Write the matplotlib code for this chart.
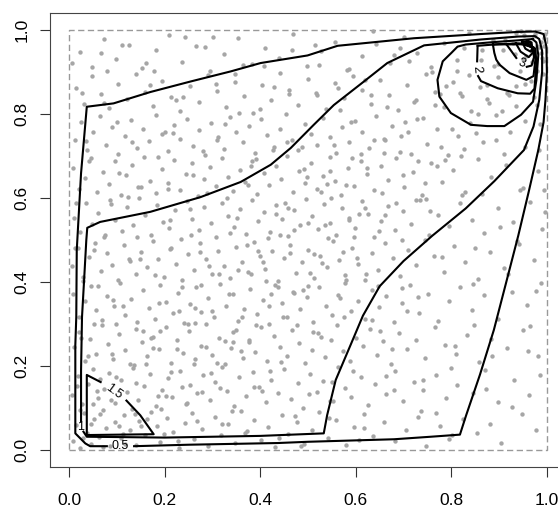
import numpy as np
import matplotlib
matplotlib.use('Agg')
import matplotlib.pyplot as plt

plt.rcParams['font.family'] = ['Liberation Sans', 'DejaVu Sans']

# sample points (per-mille)
dots = [
    # y 0.0 - 0.1
    (8,22),(15,61),(22,5),(31,88),(37,40),(46,14),(52,73),(63,31),(70,95),(78,52),(86,9),(95,66),
    (108,28),(114,84),(127,47),(139,12),(146,70),(158,35),(171,92),(183,58),(190,19),(204,77),
    (218,43),(229,6),(243,64),(257,89),(262,27),(279,51),(291,11),(305,80),(318,36),(333,62),
    (347,17),(359,94),(372,45),(388,71),(401,24),(417,56),(431,8),(446,83),(459,38),(477,66),
    (492,15),(508,49),(523,90),(541,30),(558,72),(579,12),(596,55),(618,86),(637,33),(659,68),
    (682,21),(705,47),(731,79),(748,10),(776,58),(795,27),(824,74),(853,41),(881,63),(903,18),
    (948,85),(977,49),
    # y 0.1 - 0.2
    (6,131),(18,177),(27,109),(39,158),(49,192),(61,124),(74,145),(83,183),(97,112),(109,167),
    (121,138),(133,196),(144,119),(156,152),(169,181),(181,104),(195,143),(208,171),(216,127),
    (232,189),(245,110),(253,156),(268,135),(281,178),(294,119),(306,162),(319,199),(331,141),
    (345,106),(356,173),(370,128),(384,187),(397,150),(412,115),(423,168),(438,136),(450,194),
    (464,121),(479,159),(490,101),(505,182),(519,139),(532,165),(547,117),(563,197),(578,149),
    (590,126),(611,174),(626,108),(640,157),(664,133),(683,188),(699,116),(722,162),(741,142),
    (768,179),(789,123),(812,155),(846,137),(870,191),(897,114),(931,166),(962,132),(986,180),
    # y 0.2 - 0.3
    (11,246),(20,281),(33,213),(44,264),(57,229),(68,297),(81,252),(92,218),(105,276),(117,238),
    (128,205),(141,289),(153,257),(164,223),(176,270),(189,241),(202,294),(214,208),(225,262),
    (239,231),(250,283),(264,216),(276,249),(287,299),(300,227),(313,266),(326,204),(339,243),
    (350,287),(363,219),(377,258),(390,234),(402,292),(415,211),(428,272),(442,245),(455,225),
    (467,285),(481,255),(494,207),(508,238),(521,279),(535,221),(548,261),(561,298),(574,236),
    (588,212),(601,268),(615,247),(629,289),(644,227),(658,259),(673,205),(690,278),(707,240),
    (726,262),(744,219),(765,293),(787,251),(809,230),(832,275),(858,209),(884,264),(916,243),
    (950,286),(981,224),
    # y 0.3 - 0.4
    (9,372),(21,318),(34,356),(45,391),(56,334),(69,309),(80,367),(93,344),(106,398),(118,322),
    (130,359),(142,305),(154,381),(167,338),(179,311),(190,394),(203,352),(217,326),(228,375),
    (240,302),(253,347),(266,388),(277,329),(291,361),(303,316),(316,395),(328,343),(342,371),
    (353,308),(366,337),(379,384),(393,325),(405,357),(418,301),(431,392),(445,349),(457,318),
    (469,376),(484,336),(497,364),(510,306),(523,388),(537,344),(551,321),(563,369),(577,397),
    (590,331),(604,355),(619,313),(633,382),(648,341),(664,367),(680,304),(697,350),(714,392),
    (733,326),(752,372),(772,308),(795,354),(818,389),(843,333),(869,368),(897,312),(927,377),
    (958,345),(988,398),
    # y 0.4 - 0.5
    (7,437),(19,481),(30,412),(42,459),(55,494),(66,426),(79,468),(90,441),(103,406),(115,487),
    (127,451),(140,419),(151,472),(163,436),(176,498),(187,455),(199,413),(212,479),(224,443),
    (237,404),(249,466),(261,429),(274,492),(287,454),(299,418),(311,475),(324,438),(337,409),
    (349,483),(361,447),(374,424),(386,496),(399,461),(411,432),(424,474),(437,402),(449,456),
    (462,489),(475,421),(487,448),(500,477),(513,410),(526,463),(539,436),(552,498),(565,452),
    (578,417),(592,481),(605,444),(619,405),(633,470),(647,429),(662,493),(677,458),(693,414),
    (709,476),(726,440),(744,499),(763,461),(784,423),(806,485),(829,447),(855,408),(881,471),
    (910,433),(941,490),(972,452),
    # y 0.5 - 0.6
    (10,552),(23,518),(35,587),(47,539),(60,565),(72,506),(85,594),(97,547),(110,521),(122,578),
    (134,536),(147,599),(159,560),(171,513),(184,584),(196,544),(209,528),(221,571),(234,503),
    (246,592),(258,551),(271,524),(283,579),(296,540),(308,508),(321,589),(333,557),(346,531),
    (358,574),(371,515),(383,596),(396,545),(408,567),(421,519),(433,583),(446,549),(458,509),
    (471,572),(483,536),(496,598),(509,558),(521,525),(534,586),(547,541),(559,512),(572,577),
    (585,553),(598,529),(612,593),(625,562),(639,507),(653,546),(668,581),(683,523),(699,568),
    (716,539),(734,595),(753,511),(773,559),(795,534),(818,588),(843,548),(869,517),(898,575),
    (930,542),(964,591),(989,527),
    # y 0.6 - 0.7
    (8,671),(20,622),(33,648),(45,694),(58,615),(70,662),(83,633),(95,687),(108,606),(120,655),
    (132,679),(145,627),(157,698),(169,641),(182,612),(194,668),(207,636),(219,691),(232,619),
    (244,657),(257,683),(269,604),(282,646),(294,674),(307,628),(319,695),(332,651),(344,617),
    (357,666),(369,639),(382,688),(394,609),(407,659),(419,631),(432,677),(444,645),(457,699),
    (469,613),(482,664),(494,636),(507,684),(519,622),(532,653),(545,697),(557,641),(570,608),
    (583,672),(596,628),(610,689),(624,656),(638,618),(653,677),(668,643),(684,696),(701,625),
    (719,662),(738,607),(758,684),(780,639),(803,667),(828,614),(855,692),(884,649),(915,678),
    (949,624),(982,663),
    # y 0.7 - 0.8
    (12,738),(25,781),(38,713),(51,756),(64,794),(77,727),(90,768),(103,705),(116,747),(129,786),
    (142,719),(155,763),(168,736),(181,798),(194,752),(207,711),(220,774),(233,741),(246,789),
    (259,724),(272,761),(285,703),(298,779),(311,745),(324,716),(337,792),(350,758),(363,732),
    (376,771),(389,708),(402,787),(415,749),(428,722),(441,765),(454,799),(467,738),(480,713),
    (493,776),(506,753),(519,727),(532,791),(545,744),(558,706),(571,769),(585,733),(599,784),
    (613,758),(628,719),(643,795),(659,741),(675,772),(692,709),(710,756),(729,788),(749,729),
    (770,763),(792,702),(815,748),(840,779),(866,734),(894,797),(923,757),(954,721),(985,776),
    # y 0.8 - 0.9
    (15,862),(31,824),(48,889),(66,847),(84,813),(102,871),(121,836),(139,895),(158,852),(176,818),
    (195,879),(214,841),(233,806),(252,866),(271,829),(290,893),(309,855),(328,817),(347,877),
    (366,843),(385,803),(404,869),(423,834),(442,898),(461,858),(480,821),(499,884),(518,846),
    (537,811),(556,873),(575,838),(594,891),(613,856),(632,823),(651,881),(670,845),(689,809),
    (708,868),(727,832),(746,894),(765,853),(784,816),(803,876),(822,842),(841,807),(860,864),
    (879,827),(898,888),(917,849),(936,818),(955,872),(974,839),(992,895),
    # y 0.9 - 1.0
    (22,947),(47,912),(73,978),(99,931),(126,965),(153,908),(181,952),(209,987),(237,924),(266,961),
    (295,903),(324,943),(353,981),(382,918),(411,956),(440,934),(469,991),(498,913),(527,949),
    (556,972),(585,907),(614,938),(643,966),(672,921),(701,984),(729,945),(757,911),(785,968),
    (812,929),(838,993),(864,953),(889,915),(912,975),(934,942),(953,988),(968,923),(979,961),
    (987,946),(994,981),(961,972),(945,996),(976,991),(990,934),
    # points along the diagonal
    (45,62),(88,120),(132,98),(160,205),(214,187),(248,301),(287,246),(335,372),(362,318),(405,447),
    (438,389),(471,523),(512,466),(548,601),(586,547),(623,672),(655,612),(694,748),(731,689),
    (766,822),(802,763),(838,893),(874,836),(909,952),(944,901),(972,985),(956,937),(983,958),
    (997,990),(930,968),(58,140),(112,38),(176,243),(203,130),(263,338),(309,208),(354,428),
    (392,297),(441,512),(489,380),(528,614),(573,472),(611,705),(662,559),(702,781),(745,636),
    (789,866),(826,717),(862,928),(905,808),(935,992),(967,879),(991,925),(23,96),(71,7),(99,173),
    (150,58),(190,283),(236,150),(276,393),(326,260),(373,487),(418,343),(459,575),(505,422),
    (546,663),(597,508),(638,738),(684,588),(722,829),(770,675),(811,901),(852,754),(888,975),
    (921,845),(950,930),(979,902),(995,962),(30,30),(65,85),(105,58),(140,160),(185,130),(225,240),
    (262,205),(300,330),(342,280),(381,420),(422,372),(463,470),(500,540),(541,505),(580,632),
    (620,575),(660,708),(699,655),(740,790),(778,722),(818,850),(856,799),(897,918),(936,866),
    (970,950),(988,972),
    # remaining scattered points
    (17,153),(29,402),(41,688),(53,301),(67,945),(76,512),(89,229),(101,781),(113,344),(124,603),
    (137,86),(149,455),(161,922),(172,267),(186,697),(198,38),(211,548),(223,832),(236,389),
    (247,112),(259,654),(273,471),(284,958),(297,183),(310,737),(321,62),(336,517),(348,894),
    (360,236),(374,631),(386,151),(399,811),(413,402),(426,714),(439,28),(451,589),(466,953),
    (478,297),(491,668),(503,133),(516,849),(529,446),(543,76),(554,725),(568,362),(581,904),
    (594,189),(607,562),(621,420),(635,996),(650,284),(665,817),(679,143),(696,501),(712,927),
    (730,365),(747,597),(767,88),(786,690),(807,249),(827,956),(849,480),(873,146),(893,737),
    (919,418),(944,619),(965,295),(984,713),
    (14,588),(26,849),(39,223),(52,476),(64,170),(79,903),(91,357),(104,660),(117,14),(131,732),
    (143,508),(155,283),(170,869),(180,416),(192,97),(206,621),(218,755),(231,332),(243,984),
    (255,512),(268,69),(280,712),(293,438),(307,872),(316,149),(330,599),(343,258),(355,803),
    (368,42),(380,676),(395,474),(408,913),(420,188),(434,561),(447,317),(460,847),(473,81),
    (487,722),(500,391),(514,964),(527,269),(539,633),(552,118),(566,810),(579,404),(593,696),
    (606,25),(620,881),(634,309),(649,522),(664,176),(681,939),(697,386),(715,705),(736,93),
    (756,568),(777,848),(799,196),(822,606),(848,297),(875,868),(901,532),(928,103),(955,784),
    (978,379),(993,618),
    (5,920),(13,480),(24,268),(36,735),(49,111),(61,391),(73,827),(87,586),(99,300),(111,964),
    (125,455),(135,203),(150,625),(163,73),(178,901),(189,351),(201,758),(213,481),(227,23),
    (238,840),(252,573),(264,303),(278,139),(289,612),(302,982),(314,420),(327,776),(340,93),
    (352,552),(365,917),(377,262),(392,692),(404,140),(416,505),(429,864),(444,210),(456,734),
    (470,374),(485,10),(498,649),(511,280),(524,917),(536,536),(550,163),(562,862),(575,318),
    (589,780),(603,456),(617,53),(631,844),(646,391),(661,738),(676,240),(692,957),(708,330),
    (725,595),(741,168),(760,899),(781,460),(801,35),(820,701),(845,395),(864,609),(886,224),
    (911,704),(937,498),(960,236),(980,822),(996,566),
]
pts_x = np.array([d[0] for d in dots]) / 1000.0
pts_y = np.array([d[1] for d in dots]) / 1000.0

# contour level 0.5 (gap at the "0.5" label)
lev05 = [
    [(0.079, 0.0095), (0.044, 0.0095), (0.034, 0.016), (0.013, 0.04), (0.013, 0.25), (0.015, 0.317),
     (0.016, 0.476), (0.025, 0.659), (0.037, 0.817), (0.093, 0.825), (0.170, 0.852), (0.254, 0.877),
     (0.338, 0.901), (0.401, 0.921), (0.499, 0.939), (0.562, 0.962), (0.722, 0.980), (0.862, 0.990),
     (0.94, 0.995), (0.975, 0.996), (0.993, 0.99), (0.999, 0.96), (1.0, 0.9), (0.997, 0.833),
     (0.993, 0.78), (0.982, 0.714), (0.962, 0.615), (0.94, 0.51), (0.915, 0.40), (0.889, 0.286),
     (0.86, 0.18), (0.831, 0.083), (0.818, 0.037), (0.757, 0.032), (0.68, 0.026), (0.5, 0.02),
     (0.436, 0.017), (0.25, 0.013), (0.136, 0.0095)],
]
# contour level 1 (gap at the "1" label)
lev1 = [
    [(0.030, 0.044), (0.037, 0.032), (0.2, 0.030), (0.4, 0.034), (0.533, 0.040), (0.54, 0.083),
     (0.558, 0.167), (0.589, 0.25), (0.615, 0.32), (0.65, 0.39), (0.70, 0.45), (0.76, 0.51),
     (0.83, 0.575), (0.89, 0.64), (0.952, 0.714), (0.972, 0.77), (0.984, 0.833), (0.99, 0.9),
     (0.99, 0.95), (0.984, 0.978), (0.975, 0.985), (0.94, 0.984), (0.862, 0.977), (0.743, 0.963),
     (0.666, 0.921), (0.617, 0.877), (0.554, 0.821), (0.512, 0.774), (0.464, 0.719), (0.422, 0.679),
     (0.359, 0.638), (0.275, 0.602), (0.170, 0.567), (0.065, 0.543), (0.038, 0.529), (0.036, 0.5),
     (0.031, 0.397), (0.027, 0.317), (0.025, 0.19), (0.025, 0.068)],
]
# contour level 1.5: corner triangle (gap at label) and loop at the top right
lev15 = [
    [(0.066, 0.162), (0.037, 0.179), (0.037, 0.036), (0.177, 0.038), (0.149, 0.083), (0.120, 0.118)],
    [(0.97, 0.978), (0.94, 0.975), (0.88, 0.970), (0.83, 0.965), (0.813, 0.960), (0.80, 0.945),
     (0.782, 0.925), (0.771, 0.881), (0.775, 0.841), (0.799, 0.802), (0.841, 0.774), (0.875, 0.771),
     (0.911, 0.771), (0.946, 0.798), (0.971, 0.829), (0.978, 0.88), (0.982, 0.94), (0.978, 0.97),
     (0.97, 0.978)],
]
lev2 = [
    [(0.855, 0.962), (0.854, 0.925)],
    [(0.856, 0.890), (0.862, 0.878), (0.897, 0.861), (0.939, 0.849), (0.965, 0.848), (0.974, 0.86),
     (0.978, 0.92), (0.976, 0.955), (0.96, 0.968), (0.9, 0.966), (0.855, 0.962)],
]
lev25 = [
    [(0.887, 0.965), (0.89, 0.945), (0.894, 0.929), (0.901, 0.917), (0.922, 0.897), (0.957, 0.881),
     (0.972, 0.89), (0.976, 0.93), (0.972, 0.958), (0.95, 0.966), (0.887, 0.965)],
]
lev3 = [
    [(0.915, 0.966), (0.922, 0.955), (0.936, 0.933)],
    [(0.958, 0.912), (0.968, 0.915), (0.973, 0.935), (0.97, 0.958), (0.95, 0.966), (0.915, 0.966)],
]
lev35 = [[(0.935, 0.968), (0.945, 0.948), (0.962, 0.935), (0.97, 0.945), (0.968, 0.962), (0.935, 0.968)]]
lev4 = [[(0.948, 0.972), (0.955, 0.955), (0.966, 0.948), (0.97, 0.958), (0.965, 0.97), (0.948, 0.972)]]
lev45 = [[(0.958, 0.975), (0.962, 0.962), (0.969, 0.958), (0.968, 0.97), (0.958, 0.975)]]

contours = [lev05, lev1, lev15, lev2, lev25, lev3, lev35, lev4, lev45]

# (text, x, y, angle)
contour_labels = [
    ("0.5", 0.107, 0.0095, 0),
    ("1", 0.024, 0.056, 0),
    ("1.5", 0.093, 0.140, -36),
    ("2", 0.853, 0.907, -85),
    ("3", 0.947, 0.920, -20),
]

ticks = [0.0, 0.2, 0.4, 0.6, 0.8, 1.0]
tick_labels = ["0.0", "0.2", "0.4", "0.6", "0.8", "1.0"]

fig = plt.figure(figsize=(5.58, 5.07), dpi=100)
ax = fig.add_axes([50 / 558, 40 / 507, 516 / 558, 454 / 507])

ax.scatter(pts_x, pts_y, s=10, color='#a6a6a6', linewidths=0, zorder=2)

# dashed unit square
ax.plot([0, 1, 1, 0, 0], [0, 0, 1, 1, 0], color='#999999', lw=1.0,
        linestyle=(0, (4.5, 2.5)), zorder=1)

for level in contours:
    for piece in level:
        xs = [p[0] for p in piece]
        ys = [p[1] for p in piece]
        ax.plot(xs, ys, color='black', lw=1.5, zorder=3)

for txt, x, y, ang in contour_labels:
    ax.text(x, y, txt, fontsize=9, rotation=ang, ha='center', va='center',
            rotation_mode='anchor', zorder=4)

ax.set_xlim(-0.04, 1.04)
ax.set_ylim(-0.04, 1.04)
ax.set_xticks(ticks)
ax.set_xticklabels(tick_labels)
ax.set_yticks(ticks)
ax.set_yticklabels(tick_labels)
ax.tick_params(axis='both', direction='out', length=7.5, width=0.8, color='#333333',
               labelsize=12.5)
ax.tick_params(axis='x', pad=11)
ax.tick_params(axis='y', pad=7)
for lab in ax.get_yticklabels():
    lab.set_rotation(90)
    lab.set_va('center')
for sp in ax.spines.values():
    sp.set_color('#444444')
    sp.set_linewidth(0.8)

fig.savefig('out.png', dpi=100)
